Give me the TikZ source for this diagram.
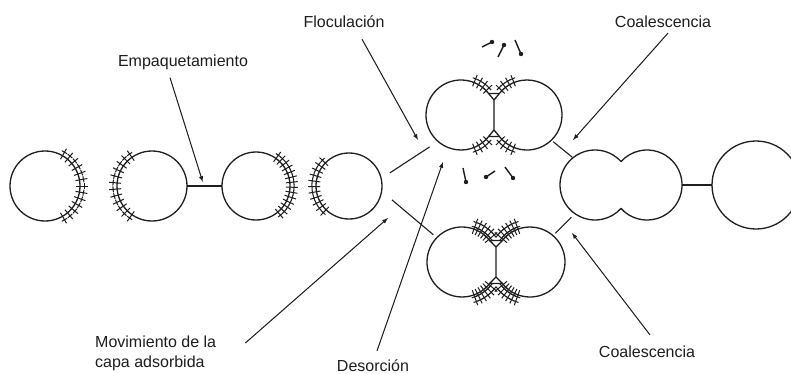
\documentclass[tikz,border=0pt]{standalone}
\usepackage{fontspec}
\setmainfont{Liberation Sans}
\usetikzlibrary{positioning, calc}
\definecolor{ink}{HTML}{1E1E1E}

\begin{document}
\begin{tikzpicture}[
x=1pt, y=1pt,
drop/.style={circle,
  draw=ink,
  line width=1.3pt,
  minimum size=#1,
  inner sep=0pt,
  outer sep=0pt
},
drop/.default=70pt,
lobe/.style={circle,
  minimum size=70pt,
  inner sep=0pt,
  outer sep=0pt
},
caption/.style={
  font=\fontsize{16}{20}\selectfont,
  text=ink,
  inner sep=1pt
},
wall/.style={draw=ink, line width=1.3pt, line join=round},
link/.style={draw=ink, line width=1.1pt},
pointer/.style={->, draw=ink, fill=ink, line width=1pt},
molecule/.style={draw=ink, line width=1pt},
>=latex
]

\useasboundingbox (0,0) rectangle (791,-374);
\fill[white] (0,0) rectangle (791,-374);
\clip (0,0) rectangle (791,-374);

% single drops
\node[drop] (d1) at (45,-186) {};
\node[drop] (d2) at (152,-186) {};
\node[drop=68pt] (d3) at (256,-186) {};
\node[drop=66pt] (d4) at (349,-186) {};

\foreach \a in {-60,-50,...,60}
  \draw[molecule, shift={(d1.center)}, rotate=\a] (31,0) -- (43,0) (39,-3) -- (39,3);
\foreach \a in {125,135,...,235}
  \draw[molecule, shift={(d2.center)}, rotate=\a] (31,0) -- (43,0) (39,-3) -- (39,3);
\foreach \a in {-50,-42,...,54}
  \draw[molecule, shift={(d3.center)}, rotate=\a] (30,0) -- (42,0) (38,-3) -- (38,3);
\foreach \a in {136,145,...,226}
  \draw[molecule, shift={(d4.center)}, rotate=\a] (29,0) -- (41,0) (37,-3) -- (37,3);

% flocculated pair, top
\node[lobe] (tl) at (461,-115) {};
\node[lobe] (tr) at (527,-115) {};
\coordinate (tTop) at (494,-100);
\coordinate (tBot) at (494,-130);
\draw[wall] (tl.38) arc[start angle=38, end angle=322, radius=35]
  -- (tr.218) arc[start angle=218, end angle=502, radius=35] -- cycle;
\draw[wall] (tl.38) -- (tTop) -- (tr.142) (tTop) -- (tBot) (tl.322) -- (tBot) -- (tr.218);
\foreach \a in {44,52,60,68}{
  \draw[molecule, shift={(tl.center)}, rotate=\a] (31,0) -- (43,0) (39,-3) -- (39,3);
  \draw[molecule, shift={(tl.center)}, rotate=-\a] (31,0) -- (43,0) (39,-3) -- (39,3);
  \draw[molecule, shift={(tr.center)}, rotate=180-\a] (31,0) -- (43,0) (39,-3) -- (39,3);
  \draw[molecule, shift={(tr.center)}, rotate=180+\a] (31,0) -- (43,0) (39,-3) -- (39,3);
}

% flocculated pair, bottom
\node[lobe] (bl) at (462,-262) {};
\node[lobe] (br) at (530,-262) {};
\coordinate (bTop) at (496,-247);
\coordinate (bBot) at (496,-277);
\draw[wall] (bl.38) arc[start angle=38, end angle=322, radius=35]
  -- (br.218) arc[start angle=218, end angle=502, radius=35] -- cycle;
\draw[wall] (bl.38) -- (bTop) -- (br.142) (bTop) -- (bBot) (bl.322) -- (bBot) -- (br.218);
\foreach \a in {40,46,...,70}{
  \draw[molecule, shift={(bl.center)}, rotate=\a] (30,0) -- (46,0) (37,-3) -- (37,3) (42,-3) -- (42,3);
  \draw[molecule, shift={(bl.center)}, rotate=-\a] (30,0) -- (46,0) (37,-3) -- (37,3) (42,-3) -- (42,3);
  \draw[molecule, shift={(br.center)}, rotate=180-\a] (30,0) -- (46,0) (37,-3) -- (37,3) (42,-3) -- (42,3);
  \draw[molecule, shift={(br.center)}, rotate=180+\a] (30,0) -- (46,0) (37,-3) -- (37,3) (42,-3) -- (42,3);
}

% free molecules around the top pair
\foreach \x/\y/\u/\v in {482/47/492/42, 498/57/504/45, 515/40/521/54,
                         463/168/466/182, 495/171/486/177, 505/167/513/178}{
  \draw[molecule, line width=1.4pt] (\x,-\y) -- (\u,-\v);
  \fill[ink] (\u,-\v) circle (2.2);
}

% coalesced drop and final drop
\node[lobe] (cl) at (595,-185) {};
\node[lobe] (cr) at (647,-185) {};
\draw[wall] (cl.42) arc[start angle=42, end angle=318, radius=35]
  arc[start angle=222, end angle=498, radius=35];
\node[drop=88pt] (big) at (756,-185) {};

% links between stages
\draw[link] (d2.east) -- (d3.west);
\draw[link, shorten <=10.5pt, shorten >=10pt] (d4.13) -- (tl.229.5);
\draw[link, shorten <=13.5pt, shorten >=4.6pt] (d4.-9) -- (bl.136.7);
\draw[link, shorten <=2.5pt, shorten >=1pt] (tr.-46) -- (cl.129);
\draw[link, shorten <=3.3pt, shorten >=5pt] (br.49) -- (cl.235);
\draw[link] (cr.east) -- (big.west);

% captions
\node[caption] (emp) at (183,-62) {Empaquetamiento};
\node[caption] (floc) at (344,-22) {Floculación};
\node[caption] (coalA) at (663,-22) {Coalescencia};
\node[caption] (coalB) at (647,-352) {Coalescencia};
\node[caption, align=left, anchor=west] (mov) at (94,-353) {Movimiento de la\\capa adsorbida};
\node[caption] (des) at (373,-366) {Desorción};

\coordinate (empTip) at ($(d2.east)!0.45!(d3.west)+(0,4)$);
\coordinate (flocTip) at (418,-140);
\coordinate (coalATip) at (573,-140);
\coordinate (coalBTip) at (572,-233);
\coordinate (movTip) at (388,-218);
\coordinate (desTip) at (443,-162);

\draw[pointer] ([xshift=-13pt, yshift=-7pt]emp.south) -- (empTip);
\draw[pointer] ([xshift=18pt, yshift=-10pt]floc.south) -- (flocTip);
\draw[pointer] ([xshift=5pt, yshift=-4pt]coalA.south) -- (coalATip);
\draw[pointer] ([xshift=3pt, yshift=10pt]coalB.north) -- (coalBTip);
\draw[pointer] ([xshift=28pt, yshift=10pt]mov.east) -- (movTip);
\draw[pointer] ([xshift=4pt, yshift=8pt]des.north) -- (desTip);
\end{tikzpicture}
\end{document}
